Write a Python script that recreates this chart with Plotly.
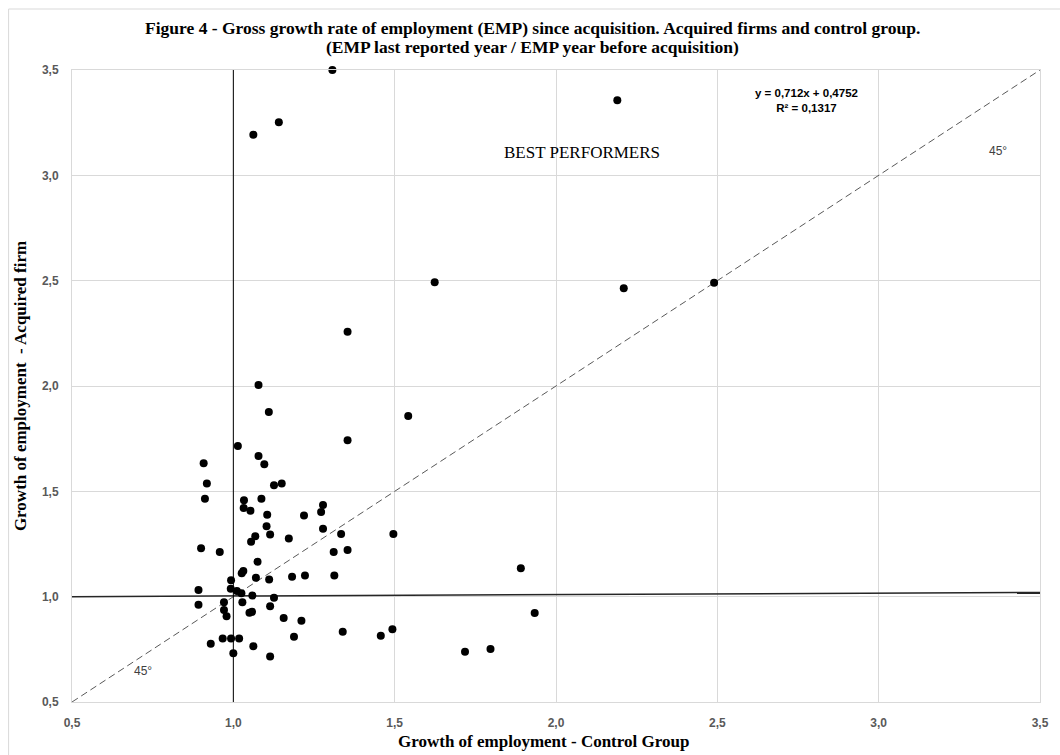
import plotly.graph_objects as go

# Growth of employment: control group (x) vs acquired firm (y)
control_growth = [
    1.078, 1.110, 1.354, 1.014, 1.078, 1.096, 0.908, 0.918, 1.126, 1.150,
    0.912, 1.033, 1.087, 1.032, 1.053, 1.105, 1.278, 1.272, 1.219, 1.103,
    1.114, 1.068, 1.055, 1.172, 1.278, 1.334, 1.311, 1.354, 0.900, 0.958,
    1.075, 1.031, 1.026, 1.070, 1.111, 1.182, 1.222, 1.313, 0.993, 0.892,
    0.992, 1.011, 1.025, 1.059, 1.126, 1.028, 0.971, 0.892, 0.971, 0.979,
    1.114, 1.050, 1.058, 1.156, 1.211, 1.188, 1.339, 0.930, 0.967, 0.993,
    1.018, 1.062, 1.000, 1.114,
    1.307, 1.062, 1.141, 2.190, 1.624, 2.210, 2.490, 1.354, 1.542, 1.496,
    1.891, 1.934, 1.457, 1.493, 1.718, 1.797,
]
acquired_growth = [
    2.005, 1.877, 1.743, 1.715, 1.668, 1.629, 1.633, 1.537, 1.529, 1.537,
    1.465, 1.458, 1.465, 1.421, 1.408, 1.389, 1.435, 1.402, 1.385, 1.334,
    1.295, 1.287, 1.261, 1.276, 1.322, 1.298, 1.212, 1.222, 1.230, 1.212,
    1.166, 1.122, 1.111, 1.090, 1.081, 1.095, 1.100, 1.100, 1.078, 1.032,
    1.037, 1.027, 1.016, 1.005, 0.995, 0.974, 0.974, 0.962, 0.937, 0.907,
    0.955, 0.924, 0.928, 0.899, 0.886, 0.810, 0.833, 0.777, 0.801, 0.801,
    0.801, 0.765, 0.732, 0.716,
    3.500, 3.193, 3.252, 3.356, 2.492, 2.464, 2.490, 2.257, 1.858, 1.298,
    1.135, 0.923, 0.815, 0.845, 0.738, 0.751,
]

# Reference lines
diag_x = [0.5, 3.5]
diag_y = [0.5, 3.5]
hline_x = [0.5, 3.5]
hline_y = [1.0, 1.02]
vline_x = [1.0, 1.0]
vline_y = [0.5, 3.5]

axis_ticks = [0.5, 1.0, 1.5, 2.0, 2.5, 3.0, 3.5]

title_lines = [
    "Figure 4 - Gross growth rate of employment (EMP) since acquisition. Acquired firms and control group.",
    "(EMP last reported year / EMP year before acquisition)",
]

serif = "Liberation Serif, Times New Roman, serif"
sans = "Liberation Sans, Arial, sans-serif"

# Figure geometry in pixels (used to place the heading outside the plot area)
W, H = 1060, 755
M_L, M_R, M_T, M_B = 72, 11, 70, 53
plot_w = W - M_L - M_R
plot_h = H - M_T - M_B


def px_to_paper_x(px):
    return (px - M_L) / plot_w


def px_to_paper_y(py):
    return (H - M_B - py) / plot_h


fig = go.Figure()

fig.add_trace(go.Scatter(
    x=diag_x, y=diag_y, mode="lines",
    line=dict(color="#595959", width=1, dash="7px,4px"),
    hoverinfo="skip", showlegend=False,
))
fig.add_trace(go.Scatter(
    x=hline_x, y=hline_y, mode="lines",
    line=dict(color="#262626", width=1.5),
    hoverinfo="skip", showlegend=False,
))
fig.add_trace(go.Scatter(
    x=vline_x, y=vline_y, mode="lines",
    line=dict(color="#000000", width=1),
    hoverinfo="skip", showlegend=False,
))
fig.add_trace(go.Scatter(
    x=control_growth, y=acquired_growth, mode="markers",
    marker=dict(color="#000000", size=8, line=dict(width=0)),
    cliponaxis=False, showlegend=False,
))

axis_common = dict(
    range=[0.5, 3.5],
    tickvals=axis_ticks,
    tickformat=".1f",
    showgrid=True,
    gridcolor="#d9d9d9",
    gridwidth=1,
    zeroline=False,
    showline=True,
    linecolor="#d9d9d9",
    linewidth=1,
    mirror=True,
    ticks="",
    tickfont=dict(family=sans, size=12, color="#595959", weight="bold"),
)

# Two-line heading, each line placed on its own for tight spacing
heading = [
    dict(x=px_to_paper_x(537), y=px_to_paper_y(28), xref="paper", yref="paper",
         text=f"<b>{title_lines[0]}</b>", showarrow=False,
         xanchor="center", yanchor="middle",
         font=dict(family=serif, size=17.5, color="#000000")),
    dict(x=px_to_paper_x(537), y=px_to_paper_y(47), xref="paper", yref="paper",
         text=f"<b>{title_lines[1]}</b>", showarrow=False,
         xanchor="center", yanchor="middle",
         font=dict(family=serif, size=17.5, color="#000000")),
]

fig.update_layout(
    width=W,
    height=H,
    margin=dict(l=M_L, r=M_R, t=M_T, b=M_B),
    paper_bgcolor="white",
    plot_bgcolor="white",
    separators=",.",
    xaxis=dict(**axis_common, ticklabelstandoff=10),
    yaxis=dict(
        **axis_common,
        ticklabelstandoff=10,
        title=dict(text="<b>Growth of employment  - Acquired firm</b>",
                   font=dict(family=serif, size=17, color="#000000"),
                   standoff=10),
    ),
    shapes=[
        dict(type="rect", xref="paper", yref="paper",
             x0=px_to_paper_x(8), y0=-0.2, x1=1.2, y1=px_to_paper_y(9),
             line=dict(color="#d9d9d9", width=1), fillcolor="rgba(0,0,0,0)",
             layer="below"),
    ],
    annotations=heading + [
        dict(x=px_to_paper_x(548), y=px_to_paper_y(741), xref="paper", yref="paper",
             text="<b>Growth of employment - Control Group</b>",
             showarrow=False, xanchor="center", yanchor="middle",
             font=dict(family=serif, size=17, color="#000000")),
        dict(x=2.08, y=3.11, xref="x", yref="y", text="BEST PERFORMERS",
             showarrow=False, font=dict(family=serif, size=17, color="#000000")),
        dict(x=3.37, y=3.115, xref="x", yref="y", text="45°",
             showarrow=False, font=dict(family=sans, size=12, color="#404040")),
        dict(x=0.72, y=0.647, xref="x", yref="y", text="45°",
             showarrow=False, font=dict(family=sans, size=12, color="#404040")),
        dict(x=2.775, y=3.356, xref="x", yref="y",
             text="<b>y = 0,712x + 0,4752</b><br><b>R² = 0,1317</b>",
             showarrow=False, align="center",
             font=dict(family=sans, size=11.5, color="#000000")),
    ],
)

fig.write_html("out.html")
